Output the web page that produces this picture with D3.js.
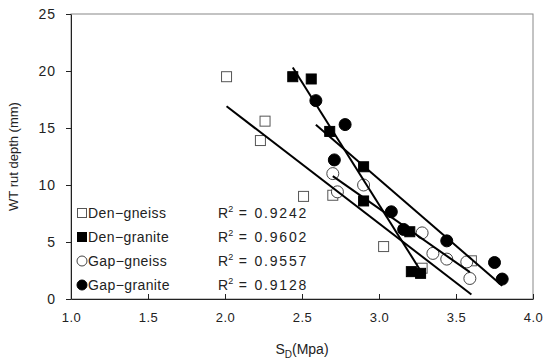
<!DOCTYPE html>
<html>
<head>
<meta charset="utf-8">
<script src="https://d3js.org/d3.v7.min.js"></script>
<style>
body { margin: 0; background: #fff; }
text { font-family: "Liberation Sans", Arial, sans-serif; fill: #222; }
</style>
</head>
<body>
<script>
// series: [S_D (MPa), rut depth (mm)]
var denGneiss  = [[2.01,19.5],[2.26,15.6],[2.23,13.9],[2.51,9.0],[2.70,9.1],[3.03,4.6],[3.28,2.7],[3.60,3.35]];
var denGranite = [[2.44,19.5],[2.56,19.3],[2.68,14.7],[2.90,11.6],[2.90,8.6],[3.20,5.9],[3.21,2.4],[3.27,2.25]];
var gapGneiss  = [[2.70,11.0],[2.90,10.0],[2.73,9.4],[3.28,5.8],[3.35,4.0],[3.44,3.5],[3.57,3.25],[3.59,1.8]];
var gapGranite = [[2.59,17.4],[2.78,15.3],[2.71,12.2],[3.08,7.65],[3.16,6.1],[3.44,5.1],[3.75,3.2],[3.80,1.75]];

var seriesNames = ["Den\u2212gneiss", "Den\u2212granite", "Gap\u2212gneiss", "Gap\u2212granite"];
var r2Labels = ["0.9242", "0.9602", "0.9557", "0.9128"];
var xTicks = [1.0, 1.5, 2.0, 2.5, 3.0, 3.5, 4.0];
var yTicks = [0, 5, 10, 15, 20, 25];

var series = [
  {name: seriesNames[0], r2: r2Labels[0], data: denGneiss,  shape: "square", fill: "#fff"},
  {name: seriesNames[1], r2: r2Labels[1], data: denGranite, shape: "square", fill: "#000"},
  {name: seriesNames[2], r2: r2Labels[2], data: gapGneiss,  shape: "circle", fill: "#fff"},
  {name: seriesNames[3], r2: r2Labels[3], data: gapGranite, shape: "circle", fill: "#000"}
];

var W = 543, H = 362;
var margin = {top: 14, right: 10, bottom: 63, left: 71};
var width = W - margin.left - margin.right,
    height = H - margin.top - margin.bottom;

var x = d3.scaleLinear().domain([1, 4]).range([0, width]);
var y = d3.scaleLinear().domain([0, 25]).range([height, 0]);

var svg = d3.select("body").append("svg")
    .attr("width", W)
    .attr("height", H);

var g = svg.append("g")
    .attr("transform", "translate(" + margin.left + "," + margin.top + ")");

// frame
g.append("rect")
    .attr("width", width).attr("height", height)
    .attr("fill", "none").attr("stroke", "#888").attr("stroke-width", 1);

// axes
var xAxis = g.append("g")
    .attr("transform", "translate(0," + height + ")")
    .call(d3.axisBottom(x).tickValues(xTicks).tickFormat(d3.format(".1f")).tickSizeInner(-5).tickSizeOuter(0).tickPadding(14));
var yAxis = g.append("g")
    .call(d3.axisLeft(y).tickValues(yTicks).tickSizeInner(5).tickSizeOuter(0).tickPadding(10));

[xAxis, yAxis].forEach(function(a) {
  a.select(".domain").attr("stroke", "#222");
  a.selectAll(".tick line").attr("stroke", "#222");
  a.selectAll("text").style("font-size", "14px").attr("fill", "#333");
});
xAxis.selectAll("text").style("font-size", "13px").style("letter-spacing", "0.5px");
yAxis.selectAll("text").style("letter-spacing", "1px");

// least-squares linear trend
function linFit(pts) {
  var mx = d3.mean(pts, function(p) { return p[0]; }),
      my = d3.mean(pts, function(p) { return p[1]; });
  var sxy = d3.sum(pts, function(p) { return (p[0] - mx) * (p[1] - my); }),
      sxx = d3.sum(pts, function(p) { return (p[0] - mx) * (p[0] - mx); });
  var b = sxy / sxx;
  return function(v) { return my + b * (v - mx); };
}

var line = d3.line().x(function(d) { return x(d[0]); }).y(function(d) { return y(d[1]); });

function drawMarker(sel, s, cx, cy, size) {
  if (s.shape === "square") {
    sel.append("rect")
      .attr("x", cx - size / 2).attr("y", cy - size / 2)
      .attr("width", size).attr("height", size)
      .attr("fill", s.fill).attr("stroke", s.fill === "#000" ? "#000" : "#555").attr("stroke-width", 1);
  } else {
    sel.append("circle")
      .attr("cx", cx).attr("cy", cy).attr("r", size / 2)
      .attr("fill", s.fill).attr("stroke", s.fill === "#000" ? "#000" : "#444").attr("stroke-width", 1);
  }
}

// markers
series.forEach(function(s) {
  var mg = g.append("g");
  s.data.forEach(function(d) {
    drawMarker(mg, s, x(d[0]), y(d[1]), s.shape === "square" ? 10 : 12);
  });
});

// trend lines on top
series.forEach(function(s) {
  var f = linFit(s.data);
  var ext = d3.extent(s.data, function(d) { return d[0]; });
  var pts = ext.map(function(v) { return [v, f(v)]; });
  g.append("path").datum(pts)
    .attr("d", line)
    .attr("fill", "none").attr("stroke", "#000").attr("stroke-width", 2);
});

// legend
var legend = svg.append("g");
series.forEach(function(s, i) {
  var ly = 213 + i * 24;
  drawMarker(legend, s, 82, ly, s.shape === "square" ? 9 : 10);
  legend.append("text")
    .attr("x", 88).attr("y", ly + 5)
    .style("font-size", "14px").style("letter-spacing", "0.4px")
    .text(s.name);
  var t = legend.append("text")
    .attr("x", 218).attr("y", ly + 5)
    .style("font-size", "14px");
  t.append("tspan").text("R");
  t.append("tspan").attr("dy", -6).style("font-size", "9px").text("2");
  t.append("tspan").attr("dy", 6).style("letter-spacing", "1.8px").text(" = " + s.r2);
});

// axis titles
svg.append("text")
    .attr("transform", "translate(18," + (margin.top + height / 2) + ") rotate(-90)")
    .attr("text-anchor", "middle")
    .style("font-size", "13px")
    .text("WT rut depth (mm)");

var xl = svg.append("text")
    .attr("x", margin.left + width / 2).attr("y", 354)
    .attr("text-anchor", "middle")
    .style("font-size", "14px");
xl.append("tspan").text("S");
xl.append("tspan").attr("dy", 4).style("font-size", "10px").text("D");
xl.append("tspan").attr("dy", -4).text("(Mpa)");
</script>
</body>
</html>
